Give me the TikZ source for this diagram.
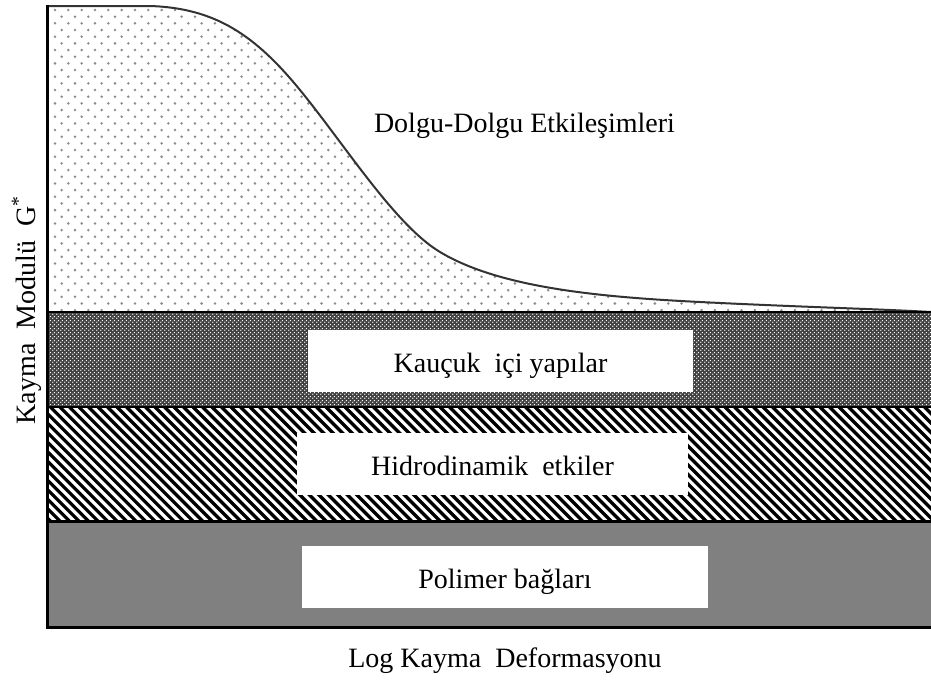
\documentclass[tikz,border=0pt]{standalone}
\usepackage{fontspec}
\setmainfont{Liberation Serif}
\usetikzlibrary{patterns.meta}
\tikzdeclarepattern{
  name=wdots,
  type=uncolored,
  bottom left={(0pt,0pt)},
  top right={(2pt,2pt)},
  tile size={(2pt,2pt)},
  code={\fill (0.5pt,0.5pt) circle (0.45pt); \fill (1.5pt,1.5pt) circle (0.45pt);}
}
\definecolor{dotc}{gray}{0.55}
\definecolor{curvec}{gray}{0.2}
\definecolor{bandgray}{gray}{0.5}
\definecolor{darkband}{gray}{0.25}
\begin{document}
\begin{tikzpicture}[x=0.5pt,y=-0.5pt,
  lab/.style={font=\fontsize{14pt}{16pt}\selectfont, inner sep=0pt, anchor=base},
  wbox/.style={fill=white, draw=none, inner sep=0pt, minimum height=31pt},
  border/.style={draw=black, line width=1.5pt}]
\useasboundingbox (0,0) rectangle (931,682);
% dotted region
\begin{scope}
  \clip (47,312) -- (47,6) -- (150,6) .. controls (215,8) and (255,35) .. (300,90)
     .. controls (345,145) and (395,225) .. (440,252)
     .. controls (500,288) and (600,297) .. (700,302)
     .. controls (800,307) and (880,309) .. (931,312) -- cycle;
  \foreach \j in {0,...,46} {
    \foreach \i in {0,...,67} {
      \fill[dotc] ({55+13.33*\i+6.67*mod(\j,2)},{10+6.67*\j}) circle (0.7pt);
    }
  }
\end{scope}
\draw[curvec, line width=1pt] (47,6) -- (150,6) .. controls (215,8) and (255,35) .. (300,90)
     .. controls (345,145) and (395,225) .. (440,252)
     .. controls (500,288) and (600,297) .. (700,302)
     .. controls (800,307) and (880,309) .. (931,312);
% crosshatch band
\fill[darkband] (47,312) rectangle (931,407);
\fill[pattern=wdots, pattern color=white] (47,312) rectangle (931,407);
% hatched band
\fill[white] (47,407) rectangle (931,521);
\begin{scope}
  \clip (47,407) rectangle (931,521);
  \foreach \x in {-130,-120.5,...,940} {
    \draw[black, line width=1.6pt] (\x,407) -- ++(120,120);
  }
\end{scope}
% gray band
\fill[bandgray] (47,521) rectangle (931,627);
% white boxes
\node[wbox, minimum width=192.5pt] (kbox) at (500.5,361) {};
\node[wbox, minimum width=195.5pt] (hbox) at (492.5,464) {};
\node[wbox, minimum width=203pt] (pbox) at (505,577) {};
% borders
\draw[black, line width=1pt] (47,312) -- (931,312);
\draw[black, line width=1pt] (47,407) -- (931,407);
\draw[border] (47,521) -- (931,521);
\draw[border] (47,5) -- (47,627) -- (931,627);
% labels
\node[lab] (dolgu) at (524.5,132) {Dolgu-Dolgu Etkileşimleri};
\node[lab] (kau) at (500.5,372) {Kauçuk\ \ içi yapılar};
\node[lab] (hid) at (492.5,475) {Hidrodinamik\ \ etkiler};
\node[lab] (pol) at (505,588) {Polimer bağları};
\node[lab] (xlab) at (505,667) {Log Kayma\ \ Deformasyonu};
\node[lab, rotate=90] (ylab) at (35,310) {Kayma\ \ Modulü\ \ G\textsuperscript{*}};
\end{tikzpicture}
\end{document}
